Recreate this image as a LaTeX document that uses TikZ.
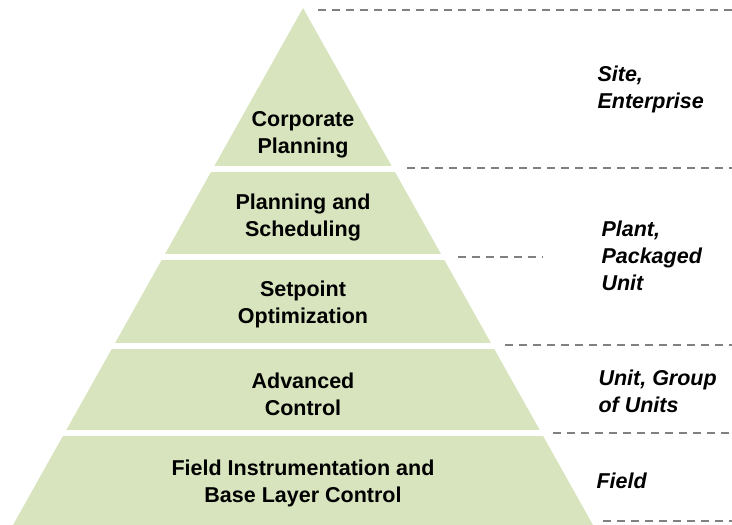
\documentclass[tikz,border=0pt]{standalone}
\usepackage{fontspec}
\setmainfont{Liberation Sans}
\usetikzlibrary{positioning}
\definecolor{layergreen}{RGB}{215,228,189}
\definecolor{dashgray}{RGB}{128,128,128}

\begin{document}
\begin{tikzpicture}[x=1pt,y=-1pt,
layer/.style={font=\bfseries\fontsize{21.5}{27}\selectfont, align=center},
scopelabel/.style={font=\bfseries\itshape\fontsize{21.5}{27}\selectfont, align=left, anchor=west},
divider/.style={dashgray, line width=2pt, dash pattern=on 8pt off 6pt}]
\useasboundingbox (0,0) rectangle (732,525);
% pyramid, cut into five layers
\begin{scope}
\clip (303,8) -- (13,525) -- (593,525) -- cycle;
\foreach \t/\b in {8/166,172/254,260/343,349/430,436/525}
  \fill[layergreen] (0,\t) rectangle (732,\b);
\end{scope}
% layer names
\node[layer] (corp)  at (303,135) {Corporate\\Planning};
\node[layer] (plan)  at (303,217) {Planning and\\Scheduling};
\node[layer] (setp)  at (303,304) {Setpoint\\Optimization};
\node[layer] (adv)   at (303,394) {Advanced\\Control};
\node[layer] (field) at (303,483) {Field Instrumentation and\\Base Layer Control};
% scope of each level
\node[scopelabel] (site)  at (594,89)  {Site,\\Enterprise};
\node[scopelabel] (plant) at (598,256) {Plant,\\Packaged\\Unit};
\node[scopelabel] (unit)  at (595,391) {Unit, Group\\of Units};
\node[scopelabel] (fld)   at (593,481) {Field};
% dividers
\foreach \y/\xa/\xb in {10/318/732,168/407/732,257/458/543,345/505/732,433/553/732,521/603/732}
  \draw[divider] (\xa,\y) -- (\xb,\y);
\end{tikzpicture}
\end{document}
